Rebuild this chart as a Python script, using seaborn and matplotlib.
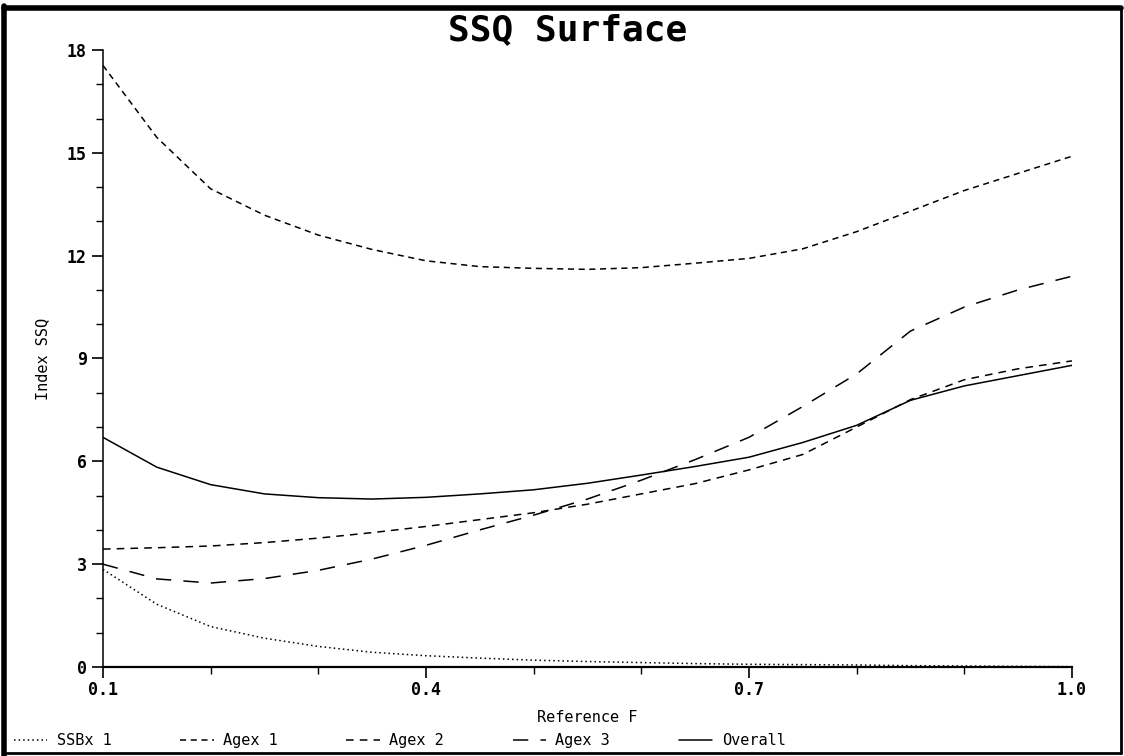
"""
SSQ Surface - index SSQ against reference F
"""
import numpy as np
import pandas as pd
import matplotlib
matplotlib.use("Agg")
import matplotlib.pyplot as plt
from matplotlib.lines import Line2D
from matplotlib.ticker import MultipleLocator, FixedLocator
import seaborn as sns

ref_f = [0.10, 0.15, 0.20, 0.25, 0.30, 0.35, 0.40, 0.45, 0.50, 0.55,
         0.60, 0.65, 0.70, 0.75, 0.80, 0.85, 0.90, 0.95, 1.00]

ssbx1 = [2.85, 1.83, 1.18, 0.84, 0.60, 0.43, 0.33, 0.26, 0.20, 0.16,
         0.13, 0.10, 0.08, 0.07, 0.06, 0.04, 0.03, 0.02, 0.01]
agex1 = [17.55, 15.45, 13.95, 13.18, 12.60, 12.18, 11.85, 11.68, 11.63, 11.60,
         11.65, 11.78, 11.92, 12.20, 12.70, 13.30, 13.90, 14.40, 14.90]
agex2 = [3.44, 3.48, 3.53, 3.63, 3.76, 3.92, 4.10, 4.30, 4.50, 4.75,
         5.05, 5.35, 5.75, 6.20, 7.00, 7.80, 8.38, 8.70, 8.93]
agex3 = [3.00, 2.57, 2.45, 2.58, 2.82, 3.15, 3.55, 4.00, 4.43, 4.90,
         5.45, 6.05, 6.70, 7.60, 8.55, 9.80, 10.50, 11.00, 11.40]
overall = [6.70, 5.83, 5.32, 5.05, 4.94, 4.90, 4.95, 5.05, 5.17, 5.36,
           5.60, 5.85, 6.12, 6.55, 7.05, 7.78, 8.20, 8.50, 8.80]

series_names = ["SSBx 1", "Agex 1", "Agex 2", "Agex 3", "Overall"]
dash_styles = {
    "SSBx 1": (1, 2),
    "Agex 1": (4, 3),
    "Agex 2": (5, 4),
    "Agex 3": (10, 8),
    "Overall": "",
}

frames = []
for name, vals in zip(series_names, [ssbx1, agex1, agex2, agex3, overall]):
    frames.append(pd.DataFrame({"F": ref_f, "SSQ": vals, "series": name}))
df = pd.concat(frames, ignore_index=True)

sns.set_style("ticks")
plt.rcParams["font.family"] = ["DejaVu Sans Mono", "DejaVu Sans"]
plt.rcParams["text.color"] = "black"
plt.rcParams["axes.labelcolor"] = "black"
plt.rcParams["xtick.color"] = "black"
plt.rcParams["ytick.color"] = "black"

fig = plt.figure(figsize=(11.24, 7.56), dpi=100)
ax = fig.add_axes([0.0916, 0.1177, 0.8621, 0.8162])

sns.lineplot(data=df, x="F", y="SSQ", style="series", style_order=series_names,
             dashes=dash_styles, color="black", linewidth=1.1, legend=False, ax=ax)

ax.set_xlim(0.1, 1.0)
ax.set_ylim(0, 18)
ax.xaxis.set_major_locator(FixedLocator([0.1, 0.4, 0.7, 1.0]))
ax.xaxis.set_minor_locator(FixedLocator([0.2, 0.3, 0.5, 0.6, 0.8, 0.9]))
ax.yaxis.set_major_locator(MultipleLocator(3))
ax.yaxis.set_minor_locator(MultipleLocator(1))
ax.set_xticklabels(["0.1", "0.4", "0.7", "1.0"])
ax.tick_params(axis="both", which="major", length=8, width=1.2, direction="out",
               labelsize=12, color="black", labelcolor="black")
ax.tick_params(axis="both", which="minor", length=5, width=1, direction="out", color="black")
ax.tick_params(axis="x", which="major", pad=2)
for lab in ax.get_xticklabels() + ax.get_yticklabels():
    lab.set_fontweight("bold")

ax.spines["top"].set_visible(False)
ax.spines["right"].set_visible(False)
ax.spines["left"].set_color("black")
ax.spines["bottom"].set_color("black")
ax.spines["left"].set_linewidth(1.1)
ax.spines["bottom"].set_linewidth(1.6)

ax.set_xlabel("Reference F", fontsize=11, labelpad=8)
ax.set_ylabel("Index SSQ", fontsize=11, labelpad=12)

fig.text(0.505, 0.960, "SSQ Surface", ha="center", va="center",
         fontsize=26, fontweight="bold")

# legend along the bottom edge
handles = [Line2D([], [], color="black", linewidth=1.1,
                  linestyle=(0, dash_styles[n]) if dash_styles[n] else "-")
           for n in series_names]
fig.legend(handles, series_names, loc="lower left", bbox_to_anchor=(0.0, -0.008),
           ncol=5, frameon=False, fontsize=11, handlelength=2.2,
           handletextpad=0.6, columnspacing=4.5)

# heavy frame around the whole picture
fig.add_artist(Line2D([0.004, 0.004], [0.0, 0.992], transform=fig.transFigure,
                      color="black", linewidth=4))
fig.add_artist(Line2D([0.004, 0.997], [0.99, 0.99], transform=fig.transFigure,
                      color="black", linewidth=4))
fig.add_artist(Line2D([0.997, 0.997], [0.004, 0.99], transform=fig.transFigure,
                      color="black", linewidth=2))
fig.add_artist(Line2D([0.004, 0.997], [0.004, 0.004], transform=fig.transFigure,
                      color="black", linewidth=2))

plt.savefig("out.png", dpi=100)
